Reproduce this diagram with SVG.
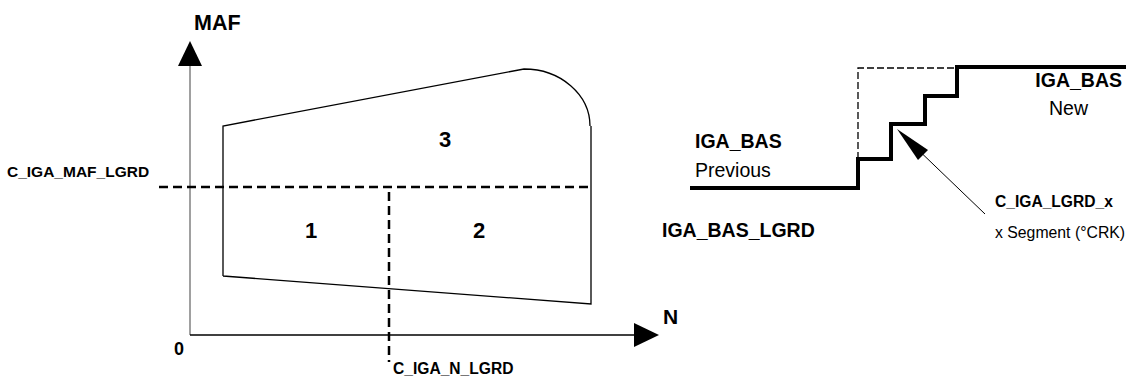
<svg xmlns="http://www.w3.org/2000/svg" width="1133" height="385" viewBox="0 0 1133 385">
<style>
.b{font-family:"Liberation Sans",Arial,sans-serif;font-weight:bold;fill:#000}
.r{font-family:"Liberation Sans",Arial,sans-serif;fill:#000}
.thin{fill:none;stroke:#000;stroke-width:1.3}
.dash{fill:none;stroke:#000;stroke-width:2.5;stroke-dasharray:9 5}
.tdash{fill:none;stroke:#000;stroke-width:1.3;stroke-dasharray:7 3}
.step{fill:none;stroke:#000;stroke-width:4;stroke-linejoin:miter}
</style>
<rect width="1133" height="385" fill="#fff"/>
<g id="axes">
<line x1="190" y1="64" x2="190" y2="335" stroke="#808080" stroke-width="1.5"/>
<polygon points="190,41 178,66 202,66" fill="#000"/>
<line x1="190" y1="335" x2="636" y2="335" stroke="#000" stroke-width="1.5"/>
<polygon points="659,335 634,323 634,347" fill="#000"/>
<text class="b" x="194" y="30" font-size="21.5">MAF</text>
<text class="b" x="663" y="324" font-size="21">N</text>
<text class="b" x="174" y="355" font-size="18">0</text>
</g>
<g id="region">
<path class="thin" d="M223,276 L223,126 L524,69 A66,57 0 0 1 590,126 M591,126 L591,304 L223,276"/>
</g>
<g id="connectors">
<line class="dash" x1="159" y1="187" x2="591" y2="187"/>
<line class="dash" x1="389" y1="192" x2="389" y2="362"/>
<path class="tdash" d="M858,159 L858,68 L957,68"/>
<path class="step" d="M690,188 L858,188 L858,159 L891,159 L891,124 L925,124 L925,96 L957,96 L957,67 L1126,67"/>
<line x1="985" y1="214" x2="910" y2="142" stroke="#000" stroke-width="1"/>
<polygon points="897,129 928,150 918,160" fill="#000"/>
</g>
<g id="labels">
<text class="b" x="7" y="177" font-size="15.5">C_IGA_MAF_LGRD</text>
<text class="b" x="393" y="374" font-size="15.6">C_IGA_N_LGRD</text>
<text class="b" x="311" y="238" font-size="22" text-anchor="middle">1</text>
<text class="b" x="479" y="238" font-size="22" text-anchor="middle">2</text>
<text class="b" x="445" y="147" font-size="22" text-anchor="middle">3</text>
<text class="b" x="695" y="148" font-size="19.5">IGA_BAS</text>
<text class="r" x="695" y="177" font-size="19.5">Previous</text>
<text class="b" x="662" y="237" font-size="19.5">IGA_BAS_LGRD</text>
<text class="b" x="1122" y="87" font-size="19.5" text-anchor="end">IGA_BAS</text>
<text class="r" x="1049" y="115" font-size="19.5">New</text>
<text class="b" x="995" y="207" font-size="15.6">C_IGA_LGRD_x</text>
<text class="r" x="995" y="238" font-size="15.8">x Segment (°CRK)</text>
</g>
</svg>
